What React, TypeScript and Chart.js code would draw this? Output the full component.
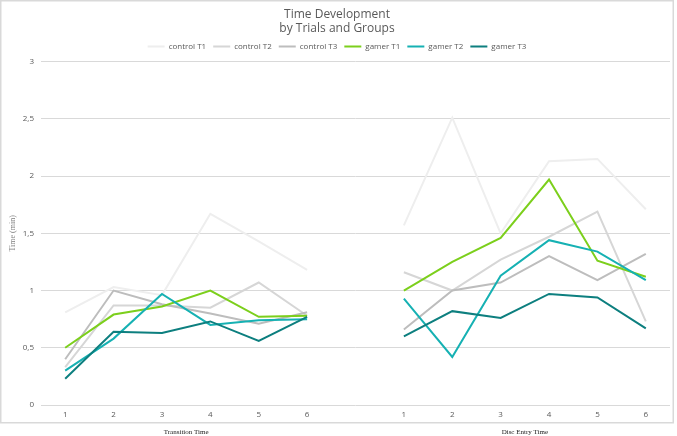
import React, { useEffect, useRef } from "react";
import { Chart, registerables } from "chart.js";

Chart.register(...registerables);

const trialLabels = ["1", "2", "3", "4", "5", "6"];
const groupLabels = ["Transition Time", "Disc Entry Time"];
const seriesNames = ["control T1", "control T2", "control T3", "gamer T1", "gamer T2", "gamer T3"];
const seriesColors = ["#eeeeee", "#d6d6d6", "#bdbdbd", "#7ccf1c", "#16b1b3", "#0d7f7f"];

// Transition Time values per series
const transControlT1 = [0.81, 1.03, 0.96, 1.67, 1.43, 1.18];
const transControlT2 = [0.33, 0.87, 0.87, 0.85, 1.07, 0.78];
const transControlT3 = [0.4, 1.0, 0.88, 0.8, 0.71, 0.81];
const transGamerT1 = [0.5, 0.79, 0.86, 1.0, 0.77, 0.78];
const transGamerT2 = [0.3, 0.58, 0.97, 0.7, 0.74, 0.75];
const transGamerT3 = [0.23, 0.64, 0.63, 0.73, 0.56, 0.77];

// Disc Entry Time values per series
const discControlT1 = [1.57, 2.51, 1.5, 2.13, 2.15, 1.71];
const discControlT2 = [1.16, 1.0, 1.27, 1.47, 1.69, 0.73];
const discControlT3 = [0.66, 1.0, 1.07, 1.3, 1.09, 1.32];
const discGamerT1 = [1.0, 1.25, 1.46, 1.97, 1.26, 1.12];
const discGamerT2 = [0.93, 0.42, 1.13, 1.44, 1.34, 1.09];
const discGamerT3 = [0.6, 0.82, 0.76, 0.97, 0.94, 0.67];

const transSeries = [transControlT1, transControlT2, transControlT3, transGamerT1, transGamerT2, transGamerT3];
const discSeries = [discControlT1, discControlT2, discControlT3, discGamerT1, discGamerT2, discGamerT3];

const yTicks = [0, 0.5, 1, 1.5, 2, 2.5, 3];

export default function App() {
  const ref = useRef<HTMLCanvasElement | null>(null);

  useEffect(() => {
    if (!ref.current) return;
    const labels = [...trialLabels, "", ...trialLabels];
    const datasets = seriesNames.map((name, i) => ({
      label: name,
      data: [...transSeries[i], null, ...discSeries[i]],
      borderColor: seriesColors[i],
      backgroundColor: seriesColors[i],
      borderWidth: 2,
      pointRadius: 0,
      pointHoverRadius: 0,
      tension: 0,
      spanGaps: false,
      order: 6 - i,
    }));

    const borderPlugin = {
      id: "frame",
      beforeDraw(chart: any) {
        const ctx = chart.ctx;
        ctx.save();
        ctx.strokeStyle = "#d9d9d9";
        ctx.lineWidth = 1.5;
        ctx.strokeRect(0.75, 0.75, 672.5, 422);
        ctx.restore();
      },
    };

    const groupPlugin = {
      id: "groups",
      afterDraw(chart: any) {
        const ctx = chart.ctx;
        const x = chart.scales.x;
        ctx.save();
        ctx.font = '7px "Liberation Serif"';
        ctx.fillStyle = "#222222";
        ctx.textAlign = "center";
        ctx.textBaseline = "middle";
        ctx.fillText(groupLabels[0], x.getPixelForValue(2.5), 432);
        ctx.fillText(groupLabels[1], x.getPixelForValue(9.5), 432);
        ctx.restore();
      },
    };

    const chart = new Chart(ref.current, {
      type: "line",
      data: { labels, datasets },
      plugins: [borderPlugin, groupPlugin],
      options: {
        animation: false,
        responsive: false,
        layout: { padding: { left: 4, right: 7, top: 0, bottom: 0 } },
        plugins: {
          title: {
            display: true,
            text: ["Time Development", "by Trials and Groups"],
            color: "#595959",
            font: { family: "Open Sans", size: 12, weight: "normal", lineHeight: 1.15 },
            padding: { top: 8, bottom: 0 },
          },
          subtitle: {
            display: true,
            text: "",
            weight: 500,
            font: { size: 1, lineHeight: 1 },
            padding: { top: 0, bottom: 0 },
          } as any,
          legend: {
            display: true,
            position: "top",
            labels: {
              usePointStyle: true,
              pointStyle: "line",
              pointStyleWidth: 17,
              boxHeight: 8,
              color: "#595959",
              font: { family: "Open Sans", size: 8 },
              padding: 7,
              sort: (a: any, b: any) => a.datasetIndex - b.datasetIndex,
            },
          },
          tooltip: { enabled: false },
        },
        scales: {
          x: {
            type: "category",
            offset: true,
            grid: { display: false, drawTicks: false },
            border: { display: false },
            ticks: {
              color: "#595959",
              font: { family: "Open Sans", size: 8 },
              padding: 5,
              maxRotation: 0,
              autoSkip: false,
            },
            afterFit: (s: any) => {
              s.height = 31;
            },
          },
          y: {
            min: 0,
            max: 3,
            afterBuildTicks: (s: any) => {
              s.ticks = yTicks.map((v) => ({ value: v }));
            },
            grid: { color: "#d9d9d9", lineWidth: 1, drawTicks: false },
            border: { display: false },
            ticks: {
              color: "#595959",
              font: { family: "Open Sans", size: 8 },
              padding: 7,
              callback: (v: any) => String(v).replace(".", ","),
            },
            title: {
              display: true,
              text: "Time (min)",
              color: "#7f7f7f",
              font: { family: "Liberation Serif", size: 8 },
              padding: { top: 4, bottom: 4 },
            },
            afterFit: (s: any) => {
              s.width = 37;
            },
          },
        },
      },
    });
    return () => chart.destroy();
  }, []);

  return (
    <div style={{ position: "absolute", left: 0, top: 0, width: 677, height: 436, background: "#fff" }}>
      <canvas ref={ref} width={677} height={436} style={{ width: 677, height: 436, display: "block" }} />
    </div>
  );
}
